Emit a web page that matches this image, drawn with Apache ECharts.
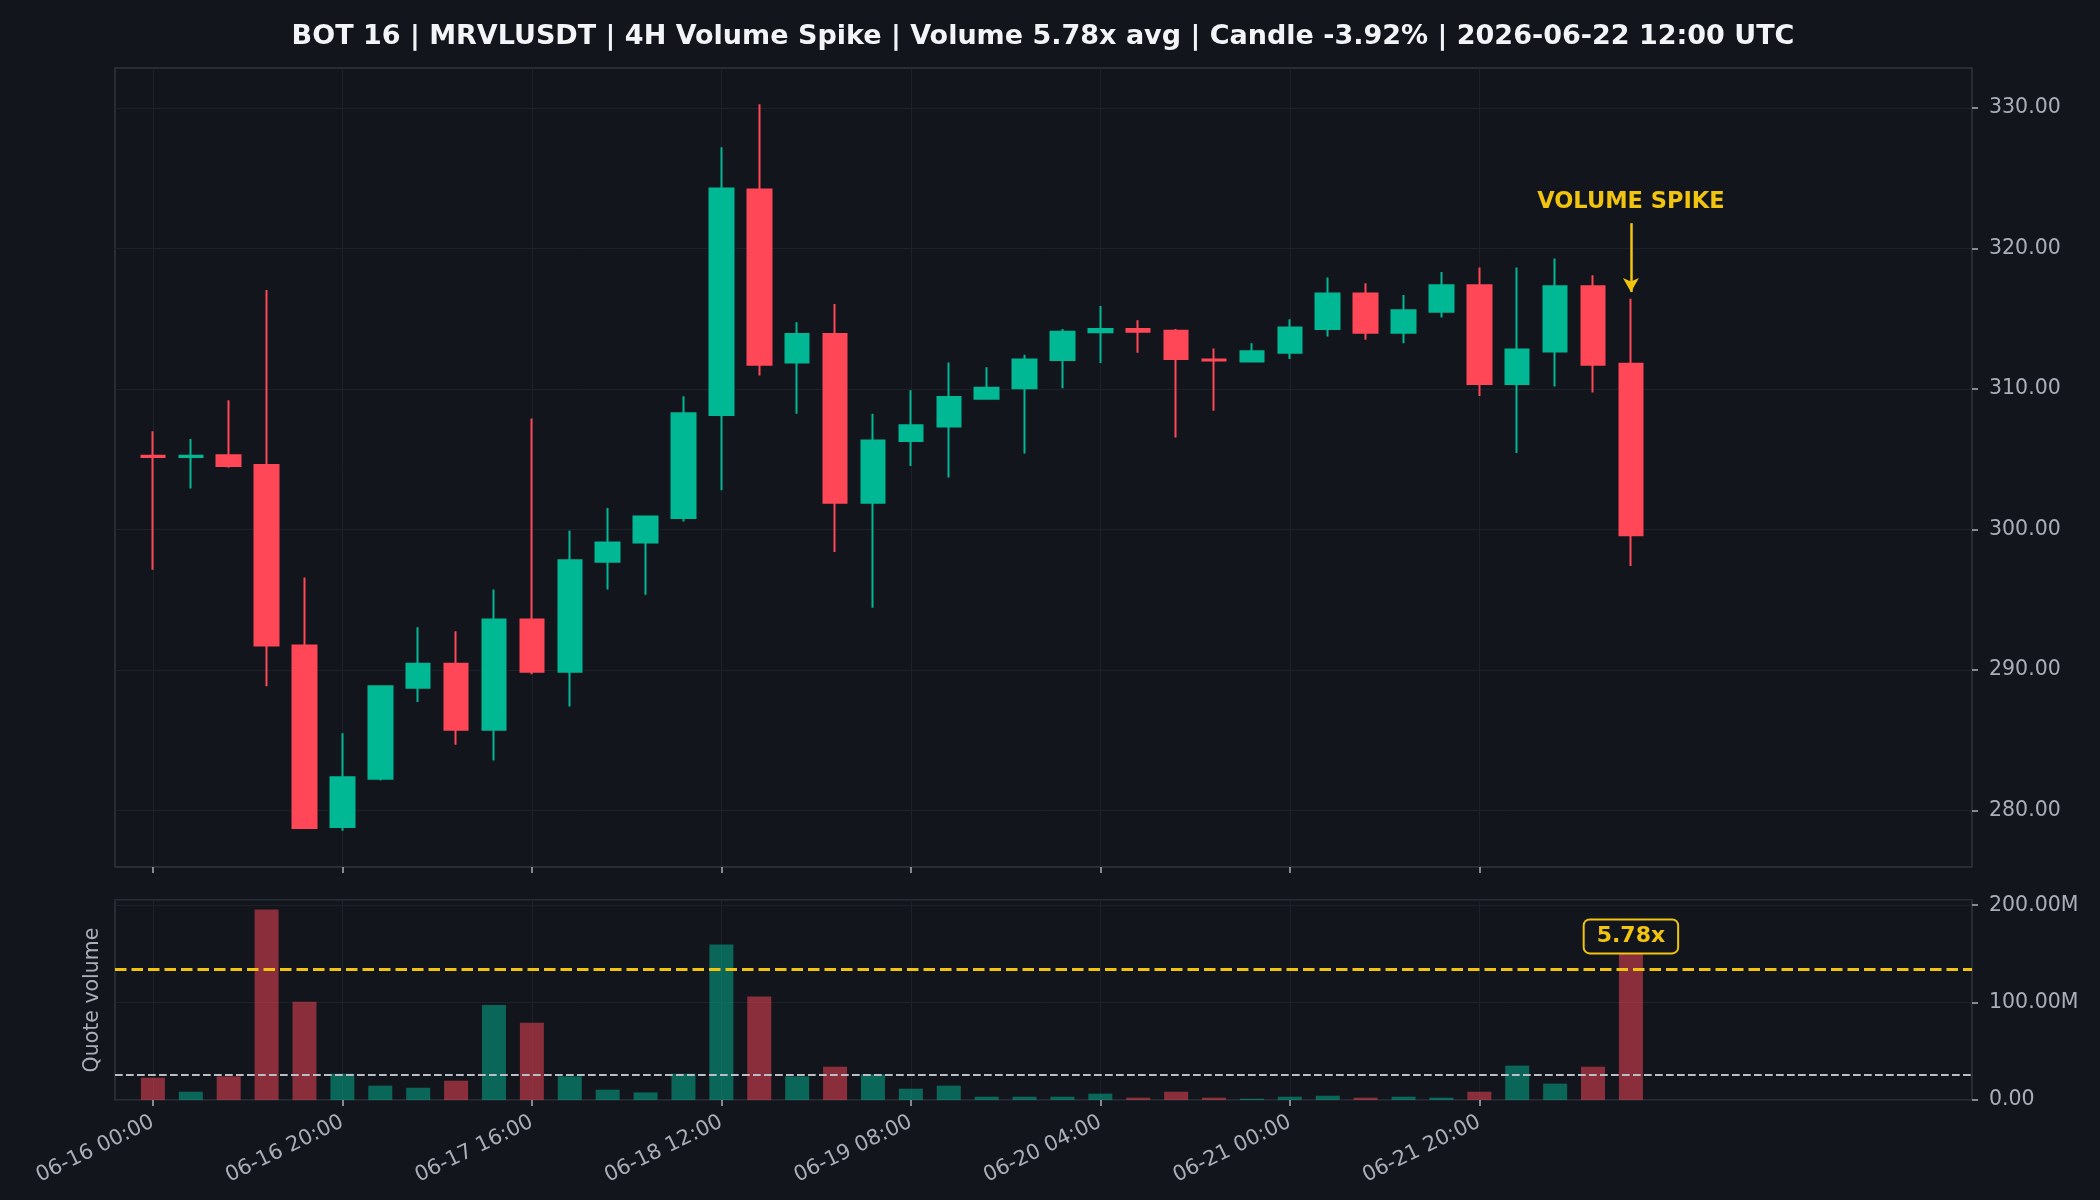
<!DOCTYPE html>
<html>
<head>
<meta charset="utf-8">
<title>MRVLUSDT 4H volume spike</title>
<script src="https://cdn.jsdelivr.net/npm/echarts@6/dist/echarts.min.js"></script>
<style>
  html, body { margin: 0; padding: 0; background: #12151c; }
  #chart { width: 2100px; height: 1200px; }
</style>
</head>
<body>
<div id="chart"></div>
<script>
// 4h candles, 06-16 00:00 .. 06-22 12:00 UTC
const times = [
  '06-16 00:00', '06-16 04:00', '06-16 08:00', '06-16 12:00', '06-16 16:00', '06-16 20:00',
  '06-17 00:00', '06-17 04:00', '06-17 08:00', '06-17 12:00', '06-17 16:00', '06-17 20:00',
  '06-18 00:00', '06-18 04:00', '06-18 08:00', '06-18 12:00', '06-18 16:00', '06-18 20:00',
  '06-19 00:00', '06-19 04:00', '06-19 08:00', '06-19 12:00', '06-19 16:00', '06-19 20:00',
  '06-20 00:00', '06-20 04:00', '06-20 08:00', '06-20 12:00', '06-20 16:00', '06-20 20:00',
  '06-21 00:00', '06-21 04:00', '06-21 08:00', '06-21 12:00', '06-21 16:00', '06-21 20:00',
  '06-22 00:00', '06-22 04:00', '06-22 08:00', '06-22 12:00'
]
const opens = [
  305.25, 305.15, 305.29, 304.58, 291.74, 278.82, 282.25, 288.73, 290.44, 285.75,
  293.60, 289.88, 297.70, 299.07, 300.82, 308.15, 324.20, 311.88, 313.92, 301.90,
  306.29, 307.33, 309.31, 310.05, 312.06, 314.03, 314.26, 314.15, 312.10, 311.95,
  312.58, 314.26, 316.79, 314.00, 315.49, 317.39, 310.35, 312.66, 317.31, 311.80
]
const closes = [
  305.15, 305.25, 304.51, 291.74, 278.75, 282.36, 288.84, 290.44, 285.75, 293.60,
  289.88, 297.81, 299.07, 300.93, 308.27, 324.27, 311.73, 313.92, 301.90, 306.33,
  307.41, 309.42, 310.09, 312.10, 314.07, 314.26, 314.07, 312.14, 312.03, 312.69,
  314.37, 316.79, 314.00, 315.60, 317.39, 310.35, 312.81, 317.31, 311.73, 299.58
]
const lows = [
  297.14, 302.91, 304.39, 288.84, 278.70, 278.56, 282.14, 287.72, 284.67, 283.55,
  289.69, 287.39, 295.72, 295.35, 300.56, 302.79, 310.95, 308.23, 298.40, 294.42,
  304.51, 303.69, 309.23, 305.40, 310.05, 311.84, 312.58, 306.55, 308.45, 311.95,
  312.14, 313.74, 313.51, 313.25, 315.08, 309.50, 305.44, 310.17, 309.75, 297.40
]
const highs = [
  306.99, 306.44, 309.20, 317.05, 296.58, 285.49, 288.84, 293.04, 292.75, 295.72,
  307.89, 299.93, 301.53, 300.93, 309.49, 327.21, 330.26, 314.74, 316.05, 308.23,
  309.90, 311.88, 311.54, 312.43, 314.26, 315.90, 314.89, 314.26, 312.88, 313.25,
  314.96, 317.94, 317.53, 316.68, 318.32, 318.65, 318.65, 319.28, 318.09, 316.42
]
// quote volume, millions
const volumes = [
  22.9, 8.5, 24.3, 195.6, 101.0, 27.0, 14.7, 12.6, 19.8, 97.6,
  79.4, 24.3, 10.6, 7.8, 27.0, 159.6, 106.2, 24.3, 34.2, 26.3,
  11.6, 14.7, 3.4, 3.4, 3.4, 6.5, 2.4, 8.5, 2.4, 1.3,
  3.4, 4.4, 2.4, 3.4, 2.4, 8.5, 35.3, 16.8, 34.2, 152.0
]
const avgVolume = 26.3
const spikeThreshold = 134.6
const spikeIndex = 39
const spikeRatio = '5.78x'

const timeTicks = [0, 5, 10, 15, 20, 25, 30, 35]
const priceTicks = [280, 290, 300, 310, 320, 330]

const FONT = 'DejaVu Sans'
const BG = '#12151c'
const UP = '#00b894'
const DOWN = '#ff4757'
const YELLOW = '#f1c40f'
const MUTED = '#a9aeb8'
const GRID = '#1d212a'
const SPINE = '#2f343e'

const candles = times.map((t, i) => [i, opens[i], closes[i], lows[i], highs[i]])
const volBars = volumes.map((v, i) => ({
  value: [i, v],
  itemStyle: { color: closes[i] >= opens[i] ? UP : DOWN, opacity: 0.5 }
}))

const lo = Math.min(...lows)
const hi = Math.max(...highs)
const pad = (hi - lo) * 0.05

function timeAxis (gridIndex, showLabels) {
  return {
    type: 'value',
    gridIndex,
    min: -1,
    max: 48,
    axisLine: { show: false, onZero: false },
    axisTick: { show: true, length: 6, customValues: timeTicks, lineStyle: { color: MUTED, width: 1.5 } },
    axisLabel: {
      show: showLabels,
      customValues: timeTicks,
      formatter: v => times[v],
      rotate: 26,
      margin: 21,
      color: MUTED,
      fontSize: 21,
      fontFamily: FONT
    },
    splitLine: { show: true, lineStyle: { color: GRID, width: 1 } }
  }
}

const chart = echarts.init(document.getElementById('chart'))
chart.setOption({
  animation: false,
  backgroundColor: BG,
  title: {
    text: 'BOT 16 | MRVLUSDT | 4H Volume Spike | Volume 5.78x avg | Candle -3.92% | 2026-06-22 12:00 UTC',
    left: 1043,
    top: 20,
    padding: 0,
    textAlign: 'center',
    textStyle: { color: '#f2f4f7', fontSize: 27, fontWeight: 'bold', fontFamily: FONT, lineHeight: 34 }
  },
  grid: [
    { left: 115, right: 128, top: 68, height: 799, show: true, borderColor: SPINE, borderWidth: 1.5, backgroundColor: 'transparent' },
    { left: 115, right: 128, top: 900, height: 200, show: true, borderColor: SPINE, borderWidth: 1.5, backgroundColor: 'transparent' }
  ],
  xAxis: [timeAxis(0, false), timeAxis(1, true)],
  yAxis: [
    {
      type: 'value',
      gridIndex: 0,
      position: 'right',
      min: lo - pad,
      max: hi + pad,
      axisLine: { show: false, onZero: false },
      axisTick: { show: true, length: 6, customValues: priceTicks, lineStyle: { color: MUTED, width: 1.5 } },
      axisLabel: { customValues: priceTicks, formatter: v => v.toFixed(2), color: MUTED, fontSize: 20.5, fontFamily: FONT, margin: 17 },
      splitLine: { show: true, lineStyle: { color: GRID, width: 1 } }
    },
    {
      type: 'value',
      gridIndex: 1,
      position: 'right',
      min: 0,
      max: Math.max(...volumes) * 1.05,
      interval: 100,
      axisLine: { show: false, onZero: false },
      axisTick: { show: true, length: 6, lineStyle: { color: MUTED, width: 1.5 } },
      axisLabel: {
        formatter: v => (v === 0 ? '0.00' : v.toFixed(2) + 'M'),
        color: MUTED, fontSize: 20.5, fontFamily: FONT, margin: 17
      },
      splitLine: { show: true, lineStyle: { color: GRID, width: 1 } }
    },
    {
      // only carries the "Quote volume" label on the left
      type: 'value',
      gridIndex: 1,
      position: 'left',
      name: 'Quote volume',
      nameLocation: 'middle',
      nameRotate: 90,
      nameGap: 12,
      nameTextStyle: { color: MUTED, fontSize: 20.5, fontFamily: FONT },
      axisLine: { show: false, onZero: false },
      axisTick: { show: false },
      axisLabel: { show: false },
      splitLine: { show: false }
    }
  ],
  series: [
    {
      type: 'candlestick',
      xAxisIndex: 0,
      yAxisIndex: 0,
      data: candles,
      encode: { x: 0, y: [1, 2, 3, 4] },
      barWidth: 24,
      itemStyle: { color: UP, color0: DOWN, borderColor: UP, borderColor0: DOWN, borderWidth: 2 },
      markLine: {
        silent: true,
        symbol: ['none', 'arrow'],
        symbolSize: [12, 14],
        label: { show: false },
        lineStyle: { color: YELLOW, width: 2.5, type: 'solid' },
        data: [[{ coord: [spikeIndex, 321.8] }, { coord: [spikeIndex, 316.9] }]]
      },
      markPoint: {
        silent: true,
        symbol: 'circle',
        symbolSize: 0,
        label: {
          show: true,
          position: 'inside',
          formatter: 'VOLUME SPIKE',
          color: YELLOW,
          fontSize: 22.5,
          fontWeight: 'bold',
          fontFamily: FONT
        },
        data: [{ coord: [spikeIndex, 323.3] }]
      }
    },
    {
      type: 'bar',
      xAxisIndex: 1,
      yAxisIndex: 1,
      data: volBars,
      barWidth: 24,
      markLine: {
        silent: true,
        symbol: 'none',
        label: { show: false },
        data: [
          { yAxis: avgVolume, lineStyle: { color: '#b9bdc6', width: 2, type: [7.7, 3.3] } },
          { yAxis: spikeThreshold, lineStyle: { color: YELLOW, width: 3, type: [11.5, 5] } }
        ]
      },
      markPoint: {
        silent: true,
        symbol: 'circle',
        symbolSize: 0,
        label: {
          show: true,
          position: 'inside',
          formatter: spikeRatio,
          color: YELLOW,
          fontSize: 22,
          fontWeight: 'bold',
          fontFamily: FONT,
          backgroundColor: BG,
          borderColor: YELLOW,
          borderWidth: 2,
          borderRadius: 5,
          padding: [5, 12]
        },
        data: [{ coord: [spikeIndex, 168] }]
      }
    }
  ]
})
</script>
</body>
</html>
